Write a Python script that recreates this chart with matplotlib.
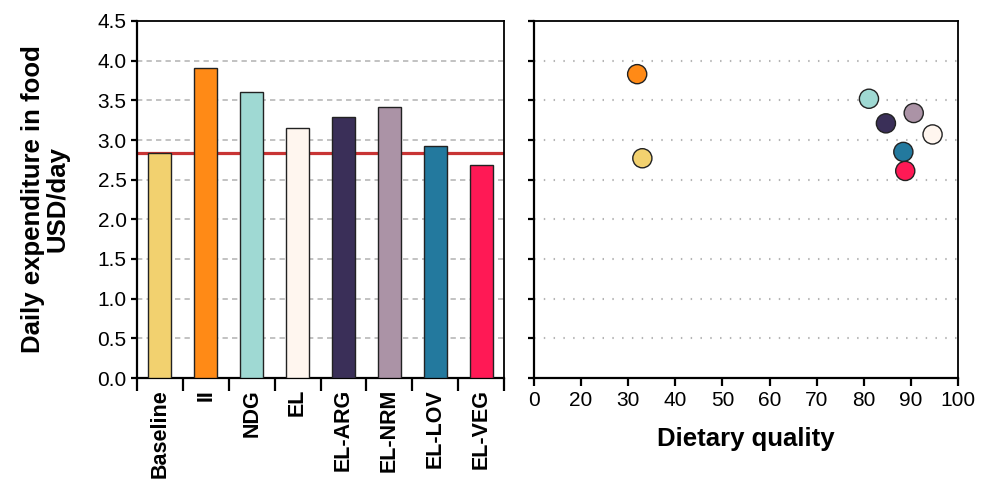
import matplotlib
matplotlib.use("Agg")
import matplotlib.pyplot as plt
import numpy as np

plt.rcParams['font.family'] = ['Liberation Sans', 'DejaVu Sans']

# -- DATA --
scenarios = ["Baseline", "II", "NDG", "EL", "EL-ARG", "EL-NRM", "EL-LOV", "EL-VEG"]
colors = ["#f2d16f", "#ff8a16", "#9fd9d3", "#fff6ef", "#3a2f58", "#ab93a6", "#23799e", "#ff1955"]
expenditure = [2.84, 3.91, 3.61, 3.15, 3.29, 3.42, 2.92, 2.68]
baseline_level = 2.83

quality = [33.0, 31.9, 81.1, 94.6, 84.7, 90.6, 88.4, 88.8]
scatter_exp = [2.77, 3.83, 3.52, 3.07, 3.21, 3.34, 2.85, 2.61]

yticks = np.arange(0, 4.51, 0.5)
xtick_pos = [10, 20, 30, 40, 50, 60, 70, 80, 90, 100]
xtick_labels = ["0", "20", "30", "40", "50", "60", "70", "80", "90", "100"]

# -- PLOT --
fig = plt.figure(figsize=(9.89, 4.8), dpi=100)
ax1 = fig.add_axes([137 / 989, 1 - 378 / 480, (504 - 137) / 989, (378 - 21) / 480])
ax2 = fig.add_axes([534 / 989, 1 - 378 / 480, (958 - 534) / 989, (378 - 21) / 480])

x = np.arange(len(scenarios))
ax1.bar(x, expenditure, width=0.5, color=colors, edgecolor="#222222", linewidth=1.0, zorder=3)
ax1.axhline(baseline_level, color="#c83434", linewidth=2.3, zorder=2)
ax1.set_xlim(-0.5, len(scenarios) - 0.5)
ax1.set_ylim(0, 4.5)
ax1.set_yticks(yticks)
ax1.set_yticklabels([f"{v:.1f}" for v in yticks])
ax1.set_xticks(x)
ax1.set_xticklabels(scenarios, rotation=90, fontsize=15.5, fontweight="bold")
ax1.tick_params(axis="x", length=0, pad=8)
ax1.set_xticks(np.arange(-0.5, len(scenarios), 1.0), minor=True)
ax1.tick_params(axis="x", which="minor", length=9, width=1.6, direction="out")
ax1.tick_params(axis="y", labelsize=15, length=4, width=1.6, direction="out")
for v in yticks[1:-1]:
    ax1.axhline(v, color="#b8b8b8", linewidth=1.2, linestyle=(0, (3.2, 2.5)), zorder=1)
ax1.set_ylabel("Daily expenditure in food\nUSD/day", fontsize=18.5, fontweight="bold",
               labelpad=20, linespacing=1.05)
for side in ["left", "bottom"]:
    ax1.spines[side].set_linewidth(1.6)
for side in ["top", "right"]:
    ax1.spines[side].set_linewidth(1.3)

ax2.scatter(quality, scatter_exp, s=190, c=colors, edgecolors="#222222", linewidths=1.0, zorder=3)
ax2.set_xlim(10, 100)
ax2.set_ylim(0, 4.5)
ax2.set_xticks(xtick_pos)
ax2.set_xticklabels(xtick_labels)
ax2.set_yticks(yticks)
ax2.set_yticklabels([])
ax2.tick_params(axis="x", labelsize=15, length=6, width=1.6, direction="out")
ax2.tick_params(axis="y", length=4, width=1.6, direction="out")
for v in yticks[1:-1]:
    ax2.axhline(v, color="#b4b4b4", linewidth=1.5, linestyle=(0, (0.7, 4.0)), zorder=1)
ax2.set_xlabel("Dietary quality", fontsize=18.5, fontweight="bold", labelpad=12)
for side in ["left", "bottom"]:
    ax2.spines[side].set_linewidth(1.6)
for side in ["top", "right"]:
    ax2.spines[side].set_linewidth(1.3)

fig.savefig("out.png", dpi=100)
